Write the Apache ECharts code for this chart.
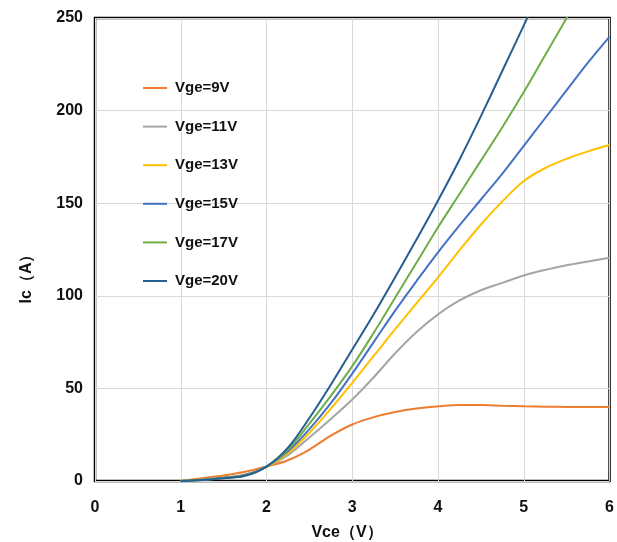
<!DOCTYPE html>
<html><head><meta charset="utf-8">
<script src="https://cdn.jsdelivr.net/npm/echarts@6/dist/echarts.min.js"></script>
<style>html,body{margin:0;padding:0;background:#fff}#c{width:617px;height:542px}</style>
</head><body><div id="c"></div>
<script>
var xs    = [1, 1.25, 1.5, 1.75, 2, 2.25, 2.5, 2.75, 3, 3.25, 3.5, 3.75, 4, 4.25, 4.5, 4.75, 5, 5.25, 5.5, 5.75, 6];
var seriesNames = ['Vge=9V', 'Vge=11V', 'Vge=13V', 'Vge=15V', 'Vge=17V', 'Vge=20V'];
var vge9  = [0, 1.5, 3, 5, 7.8, 11.2, 17, 24.5, 30.5, 34.5, 37.3, 39.2, 40.3, 41, 41, 40.6, 40.3, 40.1, 40, 40, 40];
var vge11 = [0, 0.8, 1.8, 3.5, 7.8, 14, 23.5, 33.5, 44, 56, 69, 80.5, 90, 97.5, 103, 107, 111, 114, 116.5, 118.5, 120.5];
var vge13 = [0, 0.8, 1.8, 3.3, 7.8, 15, 26, 39, 53, 67.5, 82, 96, 110, 124.5, 138.5, 151, 162, 169, 174, 178, 181.4];
var vge15 = [0, 0.7, 1.7, 3.2, 7.8, 16, 28, 42, 58, 75, 92, 108, 123.5, 138, 152, 166, 181, 196, 211, 226, 240];
var vge17 = [0, 0.6, 1.6, 3, 7.8, 17, 31, 46, 62, 80, 99, 118, 137, 155, 173, 191, 210, 230, 250, 270, 290];
var vge20 = [0, 0.5, 1.5, 2.8, 7.8, 18, 34, 52, 71, 90, 110, 130.5, 151.5, 173.5, 197, 221.5, 246, 271, 296, 321, 346];
var xTicks = [0, 1, 2, 3, 4, 5, 6];
var yTicks = [0, 50, 100, 150, 200, 250];
var colors = ['#ED7D31', '#A5A5A5', '#FFC000', '#4472C4', '#70AD47', '#255E91'];
var allData = [vge9, vge11, vge13, vge15, vge17, vge20];

function pairs(arr) { return xs.map(function (x, i) { return [x, arr[i]]; }); }

var font = "'Liberation Sans', Arial, sans-serif";
var chart = echarts.init(document.getElementById('c'), null, {renderer: 'canvas'});
chart.setOption({
  animation: false,
  color: colors,
  grid: {left: 95, right: 6, top: 18, bottom: 61, show: true, borderColor: '#000', borderWidth: 2.5, backgroundColor: 'transparent'},
  legend: {
    orient: 'vertical', left: 143, top: 80, padding: 0,
    icon: 'rect', itemWidth: 24, itemHeight: 2, itemGap: 22.6,
    data: seriesNames,
    textStyle: {fontFamily: font, fontWeight: 'bold', fontSize: 15, color: '#111', lineHeight: 16, padding: [0, 0, 0, 3]}
  },
  xAxis: {
    type: 'value', min: xTicks[0], max: xTicks[xTicks.length - 1], interval: 1,
    axisLine: {show: false}, axisTick: {show: false},
    splitLine: {show: true, lineStyle: {color: '#d9d9d9', width: 1}},
    axisLabel: {fontFamily: font, fontWeight: 'bold', fontSize: 16, color: '#111', margin: 19}
  },
  yAxis: {
    type: 'value', min: yTicks[0], max: yTicks[yTicks.length - 1], interval: 50,
    axisLine: {show: false}, axisTick: {show: false},
    splitLine: {show: true, lineStyle: {color: '#d9d9d9', width: 1}},
    axisLabel: {fontFamily: font, fontWeight: 'bold', fontSize: 16, color: '#111', margin: 12}
  },
  graphic: [
    {type: 'text', x: 347, y: 533, style: {text: 'Vce（V）', font: 'bold 16px ' + font, fill: '#111', align: 'center', verticalAlign: 'middle'}},
    {type: 'text', x: 27, y: 275, rotation: Math.PI / 2, style: {text: 'Ic（A）', font: 'bold 16px ' + font, fill: '#111', align: 'center', verticalAlign: 'middle'}}
  ],
  series: seriesNames.map(function (n, i) {
    return {
      name: n, type: 'line', data: pairs(allData[i]), smooth: 0.35,
      symbol: 'none', clip: true,
      lineStyle: {width: 2, color: colors[i]},
      itemStyle: {color: colors[i]}
    };
  })
});
</script></body></html>
